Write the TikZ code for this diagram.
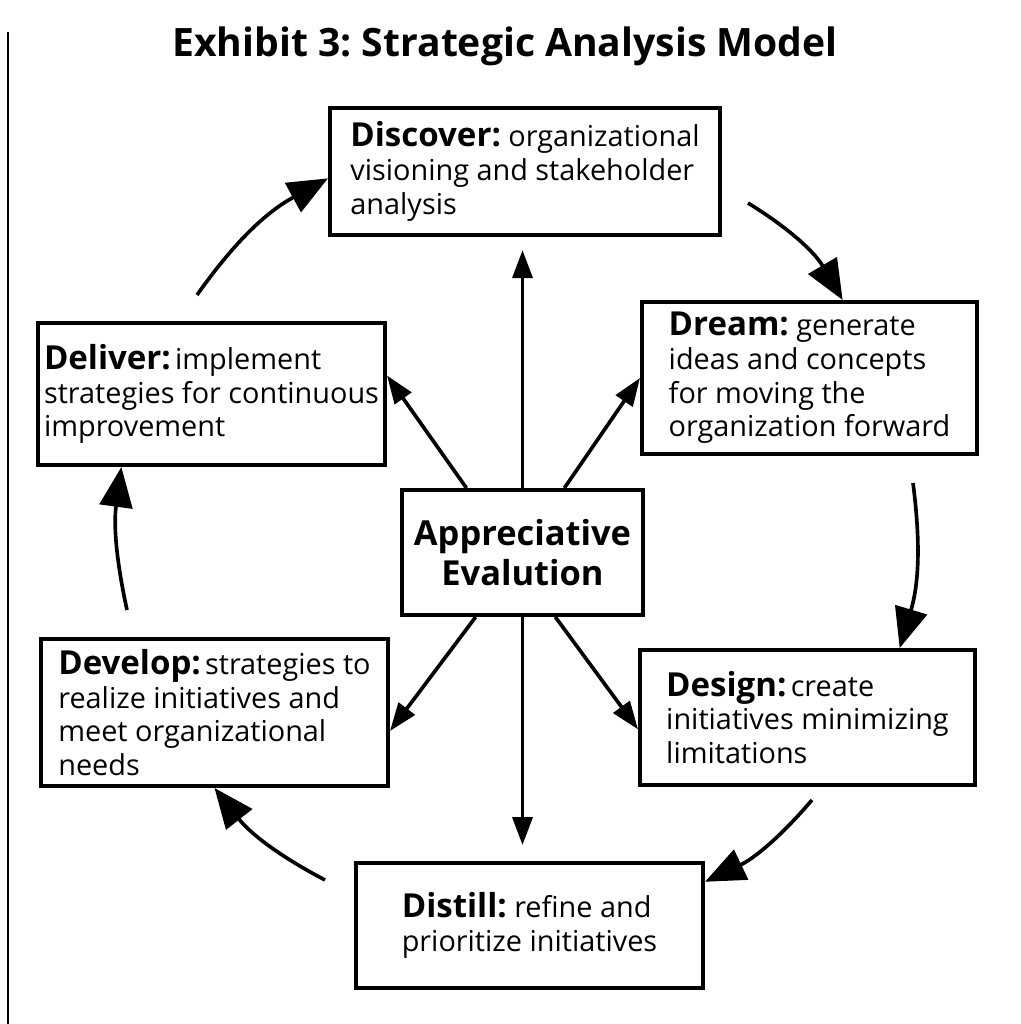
\documentclass[tikz,border=0pt]{standalone}
\usepackage{fontspec}
\setmainfont{Open Sans}
\usetikzlibrary{arrows.meta, calc}
\tikzset{
  stage/.style  = {rectangle, draw, line width=2.8pt, align=left, inner sep=0pt,
                   font=\fontsize{20.5}{24}\selectfont},
  hubbox/.style = {rectangle, draw, line width=2.8pt, align=center, inner sep=0pt,
                   minimum width=6.025cm, minimum height=3.125cm,
                   font=\bfseries\fontsize{24.5}{28}\selectfont},
  cycarrow/.style = {line width=2.6pt, -{Triangle[length=1cm, width=0.82cm]}},
  spoke/.style    = {line width=2.6pt, -{Triangle[length=0.7cm, width=0.5cm]}},
}
\newcommand{\lbl}[1]{{\bfseries\fontsize{23.5}{24}\selectfont #1}}
\frenchspacing

\begin{document}
\begin{tikzpicture}[x=0.025cm, y=-0.025cm]
    \useasboundingbox (0,0) rectangle (1020,1024);

    %% Title and page rule
    \node[font=\bfseries\fontsize{27.8}{32}\selectfont] (title) at (505,46) {Exhibit 3: Strategic Analysis Model};
    \draw[line width=0.8pt] (8,32) -- (8,1024);

    %% Stage nodes — around the hub
    \node[stage, minimum width=9.75cm,  minimum height=3.175cm] (discover) at (525,171.5)
        {\lbl{Discover:} organizational\\visioning and stakeholder\\analysis};
    \node[stage, minimum width=8.375cm, minimum height=3.8cm]   (dream)    at (809.5,378)
        {\lbl{Dream:} generate\\ideas and concepts\\for moving the\\organization forward};
    \node[stage, minimum width=8.375cm, minimum height=3.375cm] (design)   at (807.5,717.5)
        {\lbl{Design:}\hspace{3pt}create\\initiatives minimizing\\limitations};
    \node[stage, minimum width=8.675cm, minimum height=3.125cm] (distill)  at (529.5,925.5)
        {\lbl{Distill:} refine and\\prioritize initiatives};
    \node[stage, minimum width=8.675cm, minimum height=3.675cm] (develop)  at (214.5,712.5)
        {\lbl{Develop:}\hspace{3pt}strategies to\\realize initiatives and\\meet organizational\\needs};
    \node[stage, minimum width=8.675cm, minimum height=3.55cm]  (deliver)  at (211.5,394)
        {\lbl{Deliver:}\hspace{3pt}implement\\strategies for continuous\\improvement};

    %% Hub
    \node[hubbox] (hub) at (522.5,552.5) {Appreciative\\Evalution};

    %% Cycle arrows
    \coordinate (t1) at (748,203);
    \coordinate (t2) at (913,483);
    \coordinate (t3) at (812,800);
    \coordinate (t4) at (325,880);
    \coordinate (t5) at (127,610);
    \coordinate (t6) at (197,295);
    \draw[cycarrow] (t1) to[bend left=14] (dream.67);
    \draw[cycarrow] (t2) to[bend left=12] (design.37);
    \draw[cycarrow] (t3) to[bend left=12] (distill.14);
    \draw[cycarrow] (t4) to[bend left=12] (develop.south);
    \draw[cycarrow] (t5) to[bend left=10] (deliver.219);
    \draw[cycarrow] (t6) to[bend left=13] (discover.182);

    %% Spokes from the hub
    \draw[spoke] (hub.57)  -- (dream.west);
    \draw[spoke] (hub.131) -- (deliver.6);
    \draw[spoke] (hub.297) -- (design.184);
    \draw[spoke] (hub.234) -- (develop.354);
    \draw[spoke, shorten >=0.33cm] (hub.north) -- (hub.north |- discover.south);
    \draw[spoke, shorten >=0.4cm]  (hub.south) -- (hub.south |- distill.north);

\end{tikzpicture}
\end{document}
